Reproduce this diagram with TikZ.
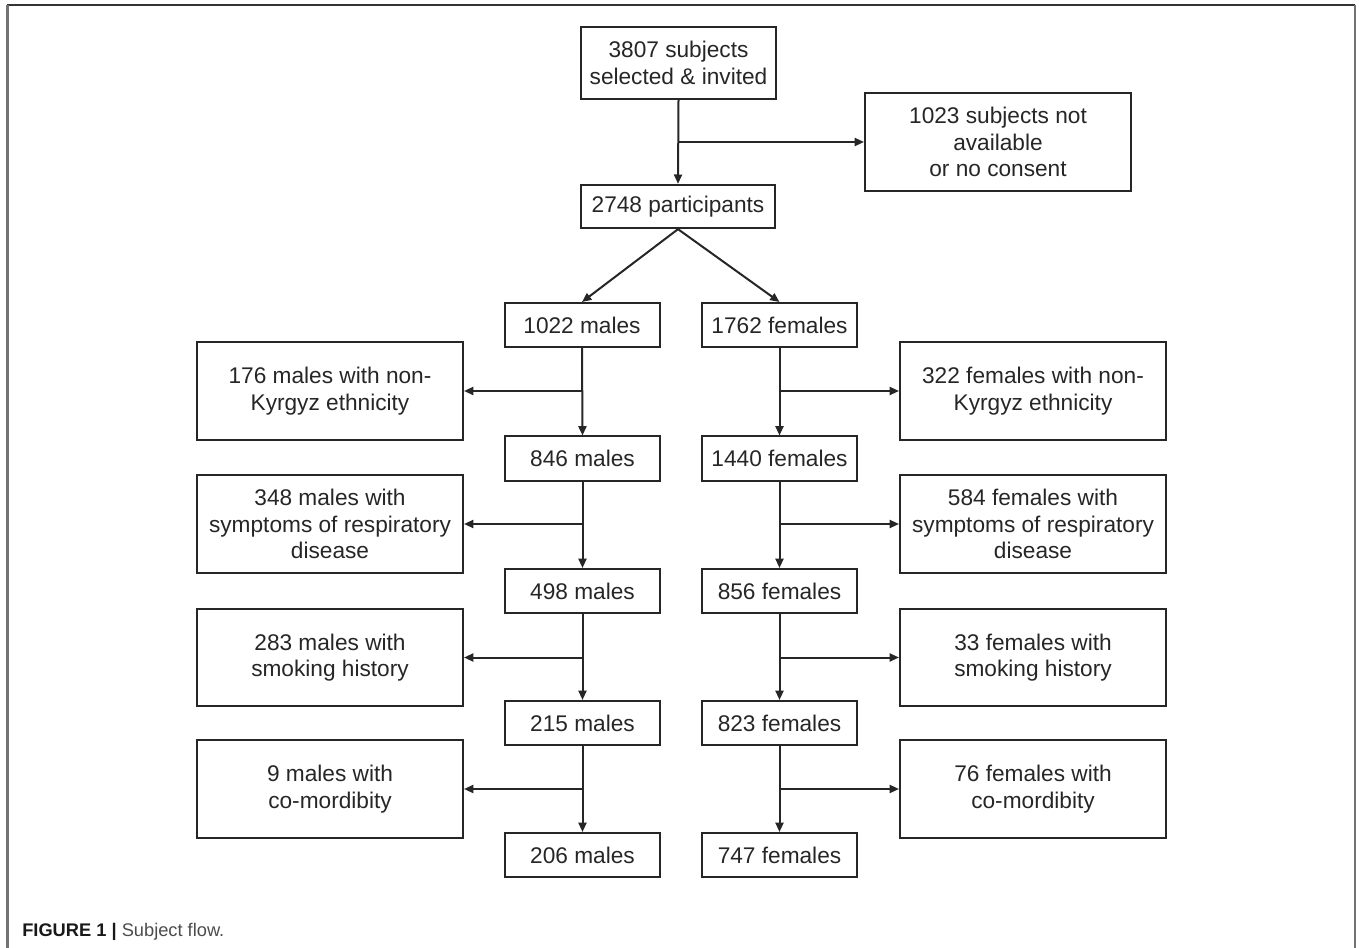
\documentclass[tikz,border=0pt]{standalone}
\usepackage{fontspec}
\setmainfont{Liberation Sans}
\usetikzlibrary{arrows.meta}
\begin{document}
\begin{tikzpicture}[x=0.75pt,y=-0.75pt,
  box/.style={draw=black!85,line width=1.5pt,inner sep=0pt,align=center,text=black!85,
    font=\fontsize{17}{20}\selectfont},
  mainbox/.style={box,minimum width=116.25pt,minimum height=33pt},
  sidebox/.style={box,minimum width=199.5pt,minimum height=73pt},
  arr/.style={draw=black!85,line width=1.5pt,-{Triangle[length=7pt,width=6pt]}}]
\useasboundingbox (0,0) rectangle (1360,948);
% frame
\draw[black!80,line width=1.1pt] (7,5) -- (1355,5);
\draw[black!55,line width=1.8pt] (7.5,5) -- (7.5,948);
\draw[black!55,line width=1.8pt] (1355,5) -- (1355,948);
% top
\node[box,minimum width=146pt,minimum height=54pt] (t) at (678.5,63) {3807 subjects\\selected \& invited};
\node[box,minimum width=145.5pt,minimum height=32.5pt] (p) at (678,206.5) {2748 participants};
\node[sidebox] (n) at (998,142) {1023 subjects not\\available\\or no consent};
% main columns
\node[mainbox] (m1) at (582,325) {1022 males};
\node[mainbox] (f1) at (779.5,325) {1762 females};
\node[mainbox] (m2) at (582.5,458.5) {846 males};
\node[mainbox] (f2) at (779.5,458.5) {1440 females};
\node[mainbox] (m3) at (582.5,591) {498 males};
\node[mainbox] (f3) at (779.5,591) {856 females};
\node[mainbox] (m4) at (582.5,723) {215 males};
\node[mainbox] (f4) at (779.5,723) {823 females};
\node[mainbox] (m5) at (582.5,855) {206 males};
\node[mainbox] (f5) at (779.5,855) {747 females};
% side boxes
\node[sidebox] (sm1) at (330,391) {176 males with non-\\Kyrgyz ethnicity};
\node[sidebox] (sf1) at (1033,391) {322 females with non-\\Kyrgyz ethnicity};
\node[sidebox] (sm2) at (330,524) {348 males with\\symptoms of respiratory\\disease};
\node[sidebox] (sf2) at (1033,524) {584 females with\\symptoms of respiratory\\disease};
\node[sidebox] (sm3) at (330,657.5) {283 males with\\smoking history};
\node[sidebox] (sf3) at (1033,657.5) {33 females with\\smoking history};
\node[sidebox] (sm4) at (330,789) {9 males with\\co-mordibity};
\node[sidebox] (sf4) at (1033,789) {76 females with\\co-mordibity};
% connectors
\draw[arr] (t.south) -- (p.north);
\draw[arr] (t.south |- n.west) -- (n.west);
\draw[arr] (p.south) -- (m1.north);
\draw[arr] (p.south) -- (f1.north);
\foreach \a/\b/\s in {m1/m2/sm1,m2/m3/sm2,m3/m4/sm3,m4/m5/sm4}{
  \draw[arr] (\a.south) -- (\b.north);
  \draw[arr] (\a.south |- \s.east) -- (\s.east);
}
\foreach \a/\b/\s in {f1/f2/sf1,f2/f3/sf2,f3/f4/sf3,f4/f5/sf4}{
  \draw[arr] (\a.south) -- (\b.north);
  \draw[arr] (\a.south |- \s.west) -- (\s.west);
}
% caption
\node[anchor=base west,inner sep=0pt,font=\fontsize{13.7}{16}\selectfont] (cap) at (22,936)
  {\textbf{\color{black!90}FIGURE 1 |} \color{black!70}Subject flow.};
\end{tikzpicture}
\end{document}
